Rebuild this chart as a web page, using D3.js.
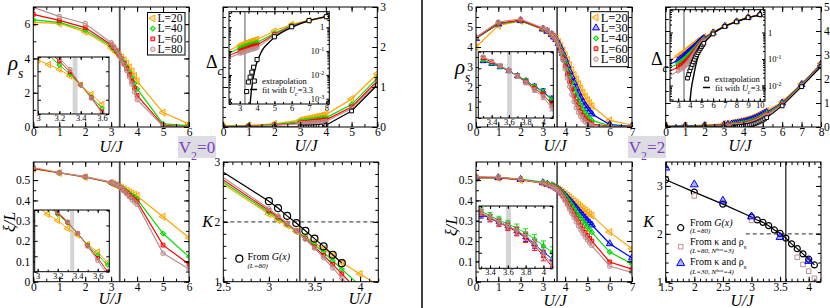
<!DOCTYPE html>
<html>
<head>
<meta charset="utf-8">
<script src="https://cdn.jsdelivr.net/npm/d3@7"></script>
<style>
  body { margin: 0; background: #fff; }
  svg { display: block; }
  svg text { font-family: "Liberation Serif", "DejaVu Serif", "Times New Roman", serif; }
</style>
</head>
<body>
<svg id="fig" width="830" height="308"></svg>
<script>
const SERIF = 'Liberation Serif, DejaVu Serif, serif';

// ---------- V2 = 0 ----------
const sizesV0 = ['L=20', 'L=40', 'L=60', 'L=80'];
const ucV0 = 3.33;
const uV0 = [0, 1, 2, 3, 3.1, 3.2, 3.3, 3.4, 3.5, 3.6, 3.7, 3.8, 3.9, 4, 5, 6];
const rhoV0 = [
  [6.1, 6.04, 5.55, 4.63, 4.5, 4.37, 4.22, 4.06, 3.9, 3.7, 3.48, 3.25, 2.98, 2.67, 0.84, 0.18],
  [6.25, 6.1, 5.66, 4.72, 4.57, 4.41, 4.21, 4.0, 3.77, 3.5, 3.2, 2.88, 2.55, 2.22, 0.18, 0.08],
  [6.57, 6.22, 5.8, 4.8, 4.63, 4.44, 4.2, 3.96, 3.7, 3.4, 3.05, 2.68, 2.28, 1.84, 0.1, 0.02],
  [6.98, 6.45, 6.04, 4.92, 4.72, 4.5, 4.22, 3.95, 3.65, 3.3, 2.92, 2.5, 2.05, 1.59, 0.05, 0.01]
];
const xiV0 = [
  [0.555, 0.535, 0.515, 0.486, 0.48, 0.475, 0.468, 0.462, 0.455, 0.448, 0.441, 0.435, 0.428, 0.422, 0.32, 0.216],
  [0.557, 0.536, 0.516, 0.487, 0.482, 0.476, 0.469, 0.461, 0.452, 0.443, 0.434, 0.425, 0.416, 0.406, 0.237, 0.123],
  [0.558, 0.536, 0.516, 0.488, 0.483, 0.477, 0.47, 0.46, 0.449, 0.437, 0.425, 0.414, 0.403, 0.394, 0.18, 0.086],
  [0.562, 0.537, 0.517, 0.49, 0.484, 0.478, 0.47, 0.459, 0.446, 0.432, 0.418, 0.404, 0.392, 0.38, 0.14, 0.063]
];
const uGapV0 = [0, 1, 2, 3, 3.1, 3.2, 3.3, 3.4, 3.5, 3.6, 3.7, 3.8, 3.9, 4, 5, 6, 7, 8];
const gapV0 = [
  [0.02, 0.04, 0.08, 0.17, 0.18, 0.195, 0.21, 0.22, 0.235, 0.25, 0.265, 0.28, 0.295, 0.31, 0.7, 1.33, 1.95, 2.8],
  [0.015, 0.03, 0.06, 0.133, 0.14, 0.15, 0.16, 0.17, 0.18, 0.19, 0.2, 0.21, 0.22, 0.23, 0.56, 1.22, 1.92, 2.78],
  [0.01, 0.025, 0.05, 0.1, 0.106, 0.113, 0.12, 0.128, 0.136, 0.145, 0.155, 0.165, 0.172, 0.18, 0.5, 1.15, 1.9, 2.77],
  [0.008, 0.02, 0.04, 0.08, 0.085, 0.09, 0.095, 0.1, 0.106, 0.112, 0.118, 0.124, 0.13, 0.137, 0.46, 1.09, 1.88, 2.76]
];
const uExtrapV0 = [0, 1, 2, 3, 3.1, 3.2, 3.3, 3.4, 3.5, 3.6, 3.7, 3.8, 4, 5, 6, 7, 8];
const extrapV0 = [0, 0, 0, 0, 0, 0, 0, 0.002, 0.005, 0.008, 0.013, 0.021, 0.044, 0.4, 1.05, 1.9, 2.78];
const uFitV0 = [3.6, 3.65, 3.7, 3.8, 3.9, 4.0, 4.15, 4.3, 4.6, 5, 5.5, 6, 7, 8];
const fitV0 = [0.0006, 0.0015, 0.003, 0.009, 0.02, 0.035, 0.065, 0.11, 0.2, 0.37, 0.65, 1.0, 1.9, 2.8];
const uKV0 = [2.5, 3.0, 3.1, 3.2, 3.3, 3.4, 3.5, 3.6, 3.7, 3.8, 4.0, 4.2];
const kV0 = [
  [2.63, 2.13, 2.03, 1.94, 1.84, 1.75, 1.65, 1.55, 1.44, 1.32, 1.13, 0.94],
  [2.66, 2.16, 2.06, 1.96, 1.85, 1.74, 1.62, 1.49, 1.35, 1.21, 0.93, 0.65],
  [2.70, 2.19, 2.08, 1.97, 1.85, 1.72, 1.58, 1.44, 1.29, 1.13, 0.82, 0.5],
  [2.74, 2.22, 2.10, 1.98, 1.85, 1.71, 1.56, 1.40, 1.23, 1.06, 0.72, 0.38]
];
const uGxV0 = [2.5, 3.0, 3.1, 3.2, 3.3, 3.4, 3.5, 3.6, 3.7, 3.8];
const gxV0 = [2.83, 2.345, 2.23, 2.10, 1.98, 1.85, 1.72, 1.59, 1.45, 1.31];
// insets (scaled, arbitrary units)
const uInsRhoV0 = [3.0, 3.1, 3.2, 3.3, 3.4, 3.5, 3.6];
const insRhoV0 = [
  [0.947, 0.866, 0.784, 0.667, 0.509, 0.345, 0.17],
  [1.2, 1.03, 0.86, 0.70, 0.509, 0.30, 0.10],
  [1.3, 1.1, 0.93, 0.74, 0.509, 0.286, 0.04],
  [1.4, 1.2, 0.977, 0.784, 0.509, 0.275, 0.012]
];
const uInsXiV0 = [3.0, 3.1, 3.2, 3.3, 3.4, 3.5, 3.6, 3.7];
const insXiV0 = [
  [1.05, 0.93, 0.83, 0.70, 0.595, 0.44, 0.32, 0.146],
  [1.2, 1.08, 0.93, 0.79, 0.62, 0.43, 0.27, 0.11],
  [1.25, 1.1, 0.95, 0.80, 0.62, 0.42, 0.22, 0.0],
  [1.3, 1.15, 0.97, 0.81, 0.62, 0.41, 0.18, -0.05]
];

// ---------- V2 = 2 ----------
const sizesV2 = ['L=20', 'L=30', 'L=40', 'L=60', 'L=80'];
const ucV2 = 3.64;
const uV2 = [0, 1, 2, 3, 3.2, 3.4, 3.5, 3.6, 3.7, 3.8, 3.9, 4.0, 4.1, 4.2, 4.3, 4.4, 4.5, 4.6, 4.7, 4.8, 4.9, 5.0, 5.1, 5.2, 6, 7];
const rhoV2 = [
  [4.0, 5.07, 5.3, 4.88, 4.78, 4.62, 4.52, 4.42, 4.25, 4.05, 3.83, 3.6, 3.35, 3.1, 2.85, 2.6, 2.38, 2.15, 1.93, 1.72, 1.52, 1.35, 1.2, 1.05, 0.33, 0.1],
  [4.42, 5.15, 5.32, 4.9, 4.79, 4.62, 4.5, 4.38, 4.18, 3.95, 3.68, 3.38, 3.08, 2.78, 2.5, 2.22, 1.95, 1.7, 1.47, 1.25, 1.07, 0.92, 0.78, 0.65, 0.12, 0.03],
  [4.42, 5.17, 5.32, 4.9, 4.8, 4.62, 4.5, 4.37, 4.15, 3.88, 3.57, 3.22, 2.88, 2.55, 2.22, 1.9, 1.62, 1.35, 1.1, 0.88, 0.7, 0.55, 0.43, 0.33, 0.06, 0.02],
  [4.45, 5.2, 5.34, 4.92, 4.81, 4.63, 4.5, 4.36, 4.12, 3.82, 3.45, 3.05, 2.65, 2.27, 1.9, 1.55, 1.25, 0.98, 0.75, 0.56, 0.41, 0.3, 0.21, 0.15, 0.03, 0.01],
  [4.5, 5.25, 5.4, 4.95, 4.83, 4.65, 4.52, 4.36, 4.1, 3.76, 3.35, 2.9, 2.45, 2.02, 1.62, 1.27, 0.97, 0.72, 0.52, 0.37, 0.26, 0.18, 0.12, 0.08, 0.02, 0.01]
];
const xiV2 = [
  [0.51, 0.51, 0.5, 0.485, 0.478, 0.47, 0.465, 0.46, 0.454, 0.447, 0.44, 0.432, 0.424, 0.415, 0.406, 0.397, 0.388, 0.379, 0.37, 0.36, 0.351, 0.342, 0.333, 0.325, 0.244, 0.162],
  [0.512, 0.512, 0.503, 0.487, 0.48, 0.472, 0.467, 0.461, 0.454, 0.445, 0.435, 0.424, 0.413, 0.401, 0.389, 0.376, 0.363, 0.35, 0.338, 0.325, 0.313, 0.301, 0.29, 0.279, 0.187, 0.117],
  [0.512, 0.513, 0.505, 0.49, 0.483, 0.476, 0.471, 0.465, 0.457, 0.447, 0.435, 0.421, 0.406, 0.391, 0.376, 0.36, 0.344, 0.328, 0.313, 0.298, 0.284, 0.27, 0.256, 0.243, 0.146, 0.087],
  [0.515, 0.512, 0.502, 0.485, 0.478, 0.47, 0.465, 0.458, 0.449, 0.437, 0.422, 0.405, 0.387, 0.368, 0.349, 0.33, 0.311, 0.293, 0.275, 0.258, 0.242, 0.227, 0.213, 0.2, 0.097, 0.062],
  [0.517, 0.514, 0.503, 0.485, 0.477, 0.468, 0.462, 0.455, 0.445, 0.432, 0.416, 0.398, 0.378, 0.357, 0.336, 0.315, 0.294, 0.274, 0.255, 0.237, 0.22, 0.205, 0.191, 0.178, 0.076, 0.046]
];
const uGapV2 = [0, 1, 2, 3, 3.2, 3.4, 3.5, 3.6, 3.7, 3.8, 3.9, 4.0, 4.1, 4.2, 4.3, 4.4, 4.5, 4.6, 4.7, 4.8, 4.9, 5.0, 5.1, 5.2, 6, 7, 8, 9, 10];
const gapV2 = [
  [0.04, 0.06, 0.08, 0.13, 0.15, 0.17, 0.18, 0.2, 0.21, 0.23, 0.25, 0.27, 0.29, 0.31, 0.34, 0.37, 0.4, 0.43, 0.47, 0.51, 0.55, 0.6, 0.64, 0.68, 1.05, 1.8, 2.65, 3.75, 4.7],
  [0.03, 0.045, 0.055, 0.09, 0.105, 0.12, 0.13, 0.14, 0.155, 0.17, 0.185, 0.2, 0.22, 0.24, 0.265, 0.29, 0.32, 0.35, 0.39, 0.43, 0.47, 0.52, 0.56, 0.61, 1.0, 1.77, 2.62, 3.72, 4.7],
  [0.02, 0.03, 0.04, 0.067, 0.078, 0.09, 0.097, 0.105, 0.115, 0.127, 0.14, 0.155, 0.17, 0.19, 0.21, 0.235, 0.26, 0.29, 0.33, 0.37, 0.41, 0.46, 0.51, 0.56, 0.97, 1.75, 2.6, 3.7, 4.7],
  [0.015, 0.02, 0.03, 0.05, 0.057, 0.065, 0.07, 0.076, 0.083, 0.092, 0.102, 0.114, 0.128, 0.145, 0.165, 0.19, 0.215, 0.245, 0.28, 0.32, 0.36, 0.41, 0.46, 0.52, 0.94, 1.73, 2.58, 3.68, 4.7],
  [0.01, 0.015, 0.02, 0.035, 0.04, 0.046, 0.05, 0.055, 0.061, 0.068, 0.077, 0.088, 0.1, 0.115, 0.133, 0.155, 0.18, 0.21, 0.245, 0.285, 0.33, 0.38, 0.43, 0.49, 0.92, 1.72, 2.57, 3.67, 4.7]
];
const uExtrapV2 = [0, 1, 2, 3, 3.5, 3.6, 3.7, 3.8, 3.9, 4.0, 4.1, 4.2, 4.3, 4.4, 4.5, 4.6, 4.7, 4.8, 4.9, 5.0, 5.1, 5.2, 6, 7, 8, 9, 10];
const extrapV2 = [0, 0, 0, 0, 0, 0, 0, 0.019, 0.026, 0.036, 0.048, 0.062, 0.078, 0.097, 0.12, 0.145, 0.175, 0.21, 0.25, 0.29, 0.34, 0.39, 0.88, 1.68, 2.52, 3.65, 4.7];
const uFitV2 = [4.02, 4.1, 4.2, 4.3, 4.5, 4.75, 5, 5.5, 6, 7, 8, 9, 10];
const fitV2 = [0.0025, 0.006, 0.012, 0.02, 0.055, 0.14, 0.27, 0.55, 0.9, 1.7, 2.55, 3.6, 4.65];
const uGxV2 = [1.5, 2, 2.5, 3, 3.1, 3.2, 3.3, 3.4, 3.5, 3.6, 3.7, 3.8, 3.9, 4.0, 4.1];
const gxV2 = [3.13, 2.87, 2.62, 2.35, 2.29, 2.24, 2.17, 2.08, 2.01, 1.91, 1.79, 1.69, 1.58, 1.47, 1.35];
const uKappaL80 = [2, 3, 3.8, 3.9, 4.0, 4.1];
const kappaL80 = [2.79, 2.28, 1.51, 1.36, 1.22, 1.07];
const uKappaL30 = [1.5, 2, 2.5, 3, 3.5, 4];
const kappaL30 = [3.38, 3.03, 2.69, 2.36, 1.93, 1.43];
// insets (scaled, arbitrary units), sizes L=30..80
const sizesInsV2 = ['L=30', 'L=40', 'L=60', 'L=80'];
const uInsV2 = [3.3, 3.4, 3.5, 3.6, 3.7, 3.8, 3.9, 4.0, 4.1];
const insRhoV2 = [
  [0.86, 0.82, 0.77, 0.71, 0.635, 0.56, 0.475, 0.4, 0.285],
  [0.875, 0.83, 0.777, 0.71, 0.635, 0.56, 0.47, 0.39, 0.27],
  [0.905, 0.845, 0.785, 0.713, 0.63, 0.543, 0.445, 0.354, 0.21],
  [0.925, 0.86, 0.79, 0.716, 0.626, 0.53, 0.42, 0.317, 0.15]
];
const errInsRhoV2 = [0.02, 0.02, 0.025, 0.025, 0.03, 0.03, 0.035, 0.04, 0.045];
const insXiV2 = [
  [0.855, 0.81, 0.745, 0.68, 0.6, 0.5, 0.39, 0.26, 0.15],
  [0.92, 0.84, 0.775, 0.71, 0.645, 0.565, 0.47, 0.36, 0.26],
  [0.89, 0.8, 0.73, 0.665, 0.585, 0.485, 0.36, 0.2, 0.02],
  [0.9, 0.815, 0.745, 0.68, 0.605, 0.52, 0.405, 0.23, 0.07]
];
const errInsXiV2 = [0.05, 0.055, 0.06, 0.06, 0.065, 0.07, 0.075, 0.08, 0.085];

// ---------- styling ----------
const colorOf = { 'L=20': '#ffa500', 'L=30': '#0000ff', 'L=40': '#00dd00', 'L=60': '#ff0000', 'L=80': '#bc8f8f' };
const symOf = { 'L=20': 'left', 'L=30': 'up', 'L=40': 'diamond', 'L=60': 'square', 'L=80': 'circle' };
const symType = { left: d3.symbolTriangle, up: d3.symbolTriangle, diamond: d3.symbolSquare, square: d3.symbolSquare, circle: d3.symbolCircle };
const symRot = { left: -90, up: 0, diamond: 45, square: 0, circle: 0 };
const symSize = { left: 21, up: 21, diamond: 12, square: 14, circle: 16 };

const svg = d3.select('#fig');
const fmt = d3.format('~g');
const tk = (a, b, s) => d3.range(Math.round((b - a) / s) + 1).map(i => +(a + i * s).toFixed(4));
const logMinor = (lo, hi) => {
  const out = [];
  for (let e = -4; e <= 1; e++) for (let m = 2; m <= 9; m++) {
    const v = m * Math.pow(10, e);
    if (v >= lo && v <= hi) out.push(v);
  }
  return out;
};

let clipCount = 0;
function makePanel(box, xd, yd, ylog) {
  const [l, t, w, h] = box;
  const g = svg.append('g').attr('transform', 'translate(' + l + ',' + t + ')');
  const x = d3.scaleLinear().domain(xd).range([0, w]);
  const y = (ylog ? d3.scaleLog() : d3.scaleLinear()).domain(yd).range([h, 0]);
  g.append('rect').attr('width', w).attr('height', h).attr('fill', '#fff');
  const id = 'clip' + (++clipCount);
  g.append('clipPath').attr('id', id).append('rect').attr('width', w).attr('height', h);
  const plot = g.append('g').attr('clip-path', 'url(#' + id + ')');
  return { g, plot, x, y, w, h, ylog };
}

function supLabels(a) {
  a.selectAll('.tick text').each(function (d) {
    const e = Math.round(Math.log10(d));
    const t = d3.select(this).text(null);
    if (e === 0) { t.text('1'); return; }
    t.append('tspan').text('10');
    t.append('tspan').attr('baseline-shift', 'super').attr('font-size', '70%').text(e);
  });
}

function finishPanel(p, o) {
  const { g, x, y, w, h } = p;
  const fs = o.fs || 11.5, big = o.tick || 5, small = o.minorTick || 3;
  const put = (fn, scale, vals, size, tr, labeled, pad) => {
    const a = g.append('g').attr('transform', tr)
      .call(fn(scale).tickValues(vals).tickSize(size).tickPadding(pad)
        .tickFormat(labeled ? fmt : () => ''));
    a.select('.domain').remove();
    a.attr('font-family', SERIF).attr('font-size', fs);
    a.selectAll('line').attr('stroke', '#000');
    return a;
  };
  const bottom = 'translate(0,' + h + ')', right = 'translate(' + w + ',0)';
  put(d3.axisBottom, x, o.xMajor, -big, bottom, true, o.xPad === undefined ? 1 : o.xPad);
  put(d3.axisTop, x, o.xMajor, -big, null, false, 0);
  if (o.xMinor) {
    put(d3.axisBottom, x, o.xMinor, -small, bottom, false, 0);
    put(d3.axisTop, x, o.xMinor, -small, null, false, 0);
  }
  const side = o.yLabels || 'left';
  const yPad = o.yPad === undefined ? 3 : o.yPad;
  const la = put(d3.axisLeft, y, o.yMajor, -big, null, side === 'left', yPad);
  let ra;
  if (side === 'insideRight') ra = put(d3.axisLeft, y, o.yMajor, big, right, true, 2);
  else ra = put(d3.axisRight, y, o.yMajor, -big, right, side === 'right', yPad);
  if (o.yMinor) {
    put(d3.axisLeft, y, o.yMinor, -small, null, false, 0);
    put(d3.axisRight, y, o.yMinor, -small, right, false, 0);
  }
  if (p.ylog) supLabels(side === 'left' ? la : ra);
  g.append('rect').attr('width', w).attr('height', h)
    .attr('fill', 'none').attr('stroke', '#000').attr('stroke-width', 1);
}

function drawSeries(p, us, vs, o) {
  const pts = us.map((u, i) => [u, vs[i], i]).filter(d => d[1] != null && !(p.ylog && d[1] <= 0));
  if (o.line !== false) {
    p.plot.append('path').datum(pts)
      .attr('d', d3.line().curve(o.curve || d3.curveLinear).x(d => p.x(d[0])).y(d => p.y(d[1])))
      .attr('fill', 'none').attr('stroke', o.color).attr('stroke-width', o.lw || 1.2);
  }
  if (o.err) {
    const eg = p.plot.append('g').attr('stroke', o.color).attr('stroke-width', 0.9);
    pts.forEach(d => {
      const xx = p.x(d[0]), y0 = p.y(d[1] - o.err[d[2]]), y1 = p.y(d[1] + o.err[d[2]]);
      eg.append('line').attr('x1', xx).attr('x2', xx).attr('y1', y0).attr('y2', y1);
      eg.append('line').attr('x1', xx - 2.5).attr('x2', xx + 2.5).attr('y1', y0).attr('y2', y0);
      eg.append('line').attr('x1', xx - 2.5).attr('x2', xx + 2.5).attr('y1', y1).attr('y2', y1);
    });
  }
  if (o.sym) {
    const keep = o.markIf || (() => true);
    const scale = o.symScale || 1;
    p.plot.append('g').selectAll('path').data(pts.filter(keep)).join('path')
      .attr('transform', d => 'translate(' + p.x(d[0]) + ',' + p.y(d[1]) + ') rotate(' + symRot[o.sym] + ')')
      .attr('d', d3.symbol(symType[o.sym], symSize[o.sym] * scale)())
      .attr('fill', o.fill || o.color).attr('fill-opacity', o.fillOpacity === undefined ? 0.3 : o.fillOpacity)
      .attr('stroke', o.color).attr('stroke-width', o.sw || 1);
  }
}

function vline(p, u, color, w) {
  p.plot.append('line').attr('x1', p.x(u)).attr('x2', p.x(u)).attr('y1', 0).attr('y2', p.h)
    .attr('stroke', color).attr('stroke-width', w);
}
function hdash(p, v, u0, u1) {
  p.plot.append('line').attr('x1', p.x(u0)).attr('x2', p.x(u1)).attr('y1', p.y(v)).attr('y2', p.y(v))
    .attr('stroke', '#555').attr('stroke-width', 1.2).attr('stroke-dasharray', '4,3');
}
function band(p, u0, u1) {
  p.plot.append('rect').attr('x', p.x(u0)).attr('width', p.x(u1) - p.x(u0))
    .attr('y', 0).attr('height', p.h).attr('fill', '#d4d4d4');
}

function label(x, y, parts, o) {
  o = o || {};
  const t = svg.append('text').attr('x', x).attr('y', y).attr('font-family', SERIF)
    .attr('font-size', o.fs || 12).attr('text-anchor', o.anchor || 'start').attr('fill', o.color || '#000');
  if (o.rotate) t.attr('transform', 'rotate(' + o.rotate + ',' + x + ',' + y + ')');
  if (o.italic) t.attr('font-style', 'italic');
  parts.forEach(pt => {
    if (typeof pt === 'string') pt = { t: pt };
    const s = t.append('tspan').text(pt.t);
    if (pt.i) s.attr('font-style', 'italic');
    if (pt.n) s.attr('font-style', 'normal');
    if (pt.sub) s.attr('baseline-shift', 'sub').attr('font-size', pt.fs || '70%');
    if (pt.sup) s.attr('baseline-shift', 'super').attr('font-size', pt.fs || '70%');
  });
  return t;
}

function legendMark(x, y, sym, color, o) {
  o = o || {};
  svg.append('path').attr('transform', 'translate(' + x + ',' + y + ') rotate(' + symRot[sym] + ')')
    .attr('d', d3.symbol(symType[sym], symSize[sym] * (o.scale || 1))())
    .attr('fill', o.fill || color).attr('fill-opacity', o.fillOpacity === undefined ? 0.3 : o.fillOpacity)
    .attr('stroke', color).attr('stroke-width', o.sw || 1);
}

function sizeLegend(box, sizes, fs, step) {
  const [l, t, w, h] = box;
  svg.append('rect').attr('x', l).attr('y', t).attr('width', w).attr('height', h)
    .attr('fill', '#fff').attr('stroke', '#000').attr('stroke-width', 1);
  sizes.forEach((s, k) => {
    const yy = t + 5.8 + k * step;
    legendMark(l + 5.3, yy, symOf[s], colorOf[s]);
    label(l + 10, yy + fs * 0.33, [s], { fs: fs });
  });
}

// ================= V2 = 0 =================
// rho_s
const p1 = makePanel([33.3, 7, 155.7, 120], [0, 6], [0, 7]);
vline(p1, ucV0, '#505050', 1.8);
sizesV0.forEach((s, k) => drawSeries(p1, uV0, rhoV0[k], { color: colorOf[s], sym: symOf[s] }));
finishPanel(p1, { xMajor: tk(0, 6, 1), xMinor: tk(0, 6, 0.5), yMajor: tk(0, 6, 2), yMinor: tk(0, 7, 1) });
const i1 = makePanel([38, 57, 71, 57], [3.0, 3.665], [0, 1]);
band(i1, 3.325, 3.37);
sizesV0.forEach((s, k) => drawSeries(i1, uInsRhoV0, insRhoV0[k], { color: colorOf[s], sym: symOf[s], symScale: 0.8, lw: 1 }));
finishPanel(i1, { fs: 8.5, tick: 3, minorTick: 2, xMajor: [3, 3.2, 3.4, 3.6], xMinor: tk(3, 3.6, 0.1), yMajor: tk(0, 1, 0.25), yLabels: 'none', xPad: 1 });
sizeLegend([147.5, 12.5, 37.5, 42.5], sizesV0, 11.5, 10.3);

// Delta_c
const p2 = makePanel([223, 7, 154.3, 120], [0, 6], [0, 3]);
sizesV0.forEach((s, k) => drawSeries(p2, uGapV0, gapV0[k], { color: colorOf[s], sym: symOf[s] }));
drawSeries(p2, uExtrapV0, extrapV0, { color: '#000', sym: 'square', fill: '#fff', fillOpacity: 1 });
finishPanel(p2, { xMajor: tk(0, 6, 1), xMinor: tk(0, 6, 0.5), yMajor: tk(0, 3, 1), yMinor: tk(0, 3, 0.25), yLabels: 'right' });
const i2 = makePanel([229, 11.7, 100.3, 92.3], [2.38, 8.17], [6e-4, 4.5], true);
vline(i2, 3.3, '#707070', 1.2);
sizesV0.forEach((s, k) => drawSeries(i2, uGapV0, gapV0[k], { color: colorOf[s], sym: symOf[s], symScale: 0.8, lw: 1.1 }));
drawSeries(i2, uFitV0, fitV0, { color: '#000', curve: d3.curveMonotoneX, lw: 1.4 });
drawSeries(i2, uExtrapV0, extrapV0, { color: '#000', sym: 'square', fill: '#fff', fillOpacity: 1, line: false, symScale: 1.2 });
finishPanel(i2, { fs: 8.5, tick: 3, minorTick: 2, xMajor: tk(3, 8, 1), xMinor: tk(2.5, 8, 0.5), yMajor: [1e-3, 1e-2, 1e-1, 1], yMinor: logMinor(6e-4, 4.5), yLabels: 'insideRight', xPad: 1 });
legendMark(254.3, 81, 'square', '#000', { fill: '#fff', fillOpacity: 1, scale: 1.2 });
label(262, 84, ['extrapolation'], { fs: 8.5 });
svg.append('line').attr('x1', 250).attr('x2', 257).attr('y1', 89.5).attr('y2', 89.5).attr('stroke', '#000').attr('stroke-width', 1.5);
label(262, 92.5, ['fit with ', { t: 'U', i: true }, { t: 'c', i: true, sub: true }, '=3.3'], { fs: 8.5 });

// xi/L
const p3 = makePanel([33.3, 162, 155.7, 119.7], [0, 6], [0, 0.589]);
vline(p3, ucV0, '#505050', 1.8);
sizesV0.forEach((s, k) => drawSeries(p3, uV0, xiV0[k], { color: colorOf[s], sym: symOf[s] }));
finishPanel(p3, { xMajor: tk(0, 6, 1), xMinor: tk(0, 6, 0.5), yMajor: tk(0, 0.5, 0.1), yMinor: tk(0, 0.55, 0.05) });
const i3 = makePanel([34.7, 210, 74.6, 61.7], [2.97, 3.716], [0, 1]);
band(i3, 3.325, 3.365);
sizesV0.forEach((s, k) => drawSeries(i3, uInsXiV0, insXiV0[k], { color: colorOf[s], sym: symOf[s], symScale: 0.8, lw: 1 }));
finishPanel(i3, { fs: 8.5, tick: 3, minorTick: 2, xMajor: [3, 3.2, 3.4, 3.6], xMinor: tk(3, 3.7, 0.1), yMajor: tk(0, 1, 0.25), yLabels: 'none', xPad: 1 });

// K
const p4 = makePanel([223.3, 162, 155, 119.7], [2.5, 4.2], [1, 3]);
hdash(p4, 2, 2.5, 4.2);
vline(p4, 3.34, '#000', 1.1);
sizesV0.forEach((s, k) => drawSeries(p4, uKV0, kV0[k], { color: colorOf[s], sym: symOf[s], markIf: d => d[0] >= 2.95 && d[0] <= 4.05 }));
drawSeries(p4, uGxV0, gxV0, { color: '#000', sym: 'circle', fill: 'none', fillOpacity: 0, symScale: 2.4, sw: 1.2, markIf: d => d[0] >= 2.95 });
finishPanel(p4, { xMajor: [2.5, 3, 3.5, 4], xMinor: tk(2.5, 4.2, 0.1), yMajor: [1, 2, 3], yMinor: tk(1, 3, 0.2) });
legendMark(239.3, 258.7, 'circle', '#000', { fill: 'none', fillOpacity: 0, scale: 2.4, sw: 1.2 });
label(247.5, 260, ['From ', { t: 'G(x)', i: true }], { fs: 10 });
label(247.5, 267.5, ['(L=80)'], { fs: 7, italic: true });

// ================= V2 = 2 =================
const p5 = makePanel([476, 7, 156, 120], [0, 7], [0, 6]);
vline(p5, ucV2, '#505050', 1.8);
sizesV2.forEach((s, k) => drawSeries(p5, uV2, rhoV2[k], { color: colorOf[s], sym: symOf[s] }));
finishPanel(p5, { xMajor: tk(0, 7, 1), xMinor: tk(0, 7, 0.5), yMajor: tk(0, 6, 1), yMinor: tk(0, 6, 0.5) });
const i5 = makePanel([478.3, 51.7, 75, 66.3], [3.244, 4.118], [0, 1]);
band(i5, 3.58, 3.635);
sizesInsV2.forEach((s, k) => drawSeries(i5, uInsV2, insRhoV2[k], { color: colorOf[s], sym: symOf[s], symScale: 0.7, lw: 1, err: errInsRhoV2 }));
finishPanel(i5, { fs: 8.5, tick: 3, minorTick: 2, xMajor: [3.4, 3.6, 3.8, 4], xMinor: tk(3.3, 4.1, 0.1), yMajor: tk(0, 1, 0.25), yLabels: 'none', xPad: 1 });
sizeLegend([590.7, 11.7, 37.6, 55], sizesV2, 12.5, 10.4);

const p6 = makePanel([665.7, 7, 155.3, 120], [0, 8], [0, 5]);
sizesV2.forEach((s, k) => drawSeries(p6, uGapV2, gapV2[k], { color: colorOf[s], sym: symOf[s] }));
drawSeries(p6, uExtrapV2, extrapV2, { color: '#000', sym: 'square', fill: '#fff', fillOpacity: 1 });
finishPanel(p6, { xMajor: tk(0, 8, 1), xMinor: tk(0, 8, 0.5), yMajor: tk(0, 5, 1), yMinor: tk(0, 5, 0.5), yLabels: 'right' });
const i6 = makePanel([670, 9.7, 95, 91.6], [2.3, 10.45], [0.00253, 7.25], true);
vline(i6, 3.5, '#707070', 1.2);
sizesV2.forEach((s, k) => drawSeries(i6, uGapV2, gapV2[k], { color: colorOf[s], sym: symOf[s], symScale: 0.8, lw: 1.1 }));
drawSeries(i6, uFitV2, fitV2, { color: '#000', curve: d3.curveMonotoneX, lw: 1.4 });
drawSeries(i6, uExtrapV2, extrapV2, { color: '#000', sym: 'square', fill: '#fff', fillOpacity: 1, line: false, symScale: 1.0 });
finishPanel(i6, { fs: 8.5, tick: 3, minorTick: 2, xMajor: tk(3, 10, 1), xMinor: tk(2.5, 10, 0.5), yMajor: [1e-2, 1e-1, 1], yMinor: logMinor(0.00253, 7.25), yLabels: 'right', xPad: 1 });
legendMark(706.7, 79, 'square', '#000', { fill: '#fff', fillOpacity: 1, scale: 1.1 });
label(715, 82, ['extrapolation'], { fs: 8.5 });
svg.append('line').attr('x1', 703).attr('x2', 710).attr('y1', 87.5).attr('y2', 87.5).attr('stroke', '#000').attr('stroke-width', 1.5);
label(715, 90.5, ['fit with ', { t: 'U', i: true }, { t: 'c', i: true, sub: true }, '=3.6'], { fs: 8.5 });

const p7 = makePanel([476, 162, 156, 119.7], [0, 7], [0, 0.589]);
vline(p7, ucV2, '#505050', 1.8);
sizesV2.forEach((s, k) => drawSeries(p7, uV2, xiV2[k], { color: colorOf[s], sym: symOf[s] }));
finishPanel(p7, { xMajor: tk(0, 7, 1), xMinor: tk(0, 7, 0.5), yMajor: tk(0, 0.5, 0.1), yMinor: tk(0, 0.55, 0.05) });
const i7 = makePanel([479, 206, 73.7, 62.3], [3.276, 4.104], [0, 1]);
band(i7, 3.58, 3.635);
sizesInsV2.forEach((s, k) => drawSeries(i7, uInsV2, insXiV2[k], { color: colorOf[s], sym: symOf[s], symScale: 0.7, lw: 1, err: errInsXiV2 }));
finishPanel(i7, { fs: 8.5, tick: 3, minorTick: 2, xMajor: [3.4, 3.6, 3.8, 4], xMinor: tk(3.3, 4.1, 0.1), yMajor: tk(0, 1, 0.25), yLabels: 'none', xPad: 1 });

const p8 = makePanel([665.7, 162, 155.3, 119.7], [1.5, 4.215], [1, 3.5]);
hdash(p8, 2, 2.9, 4.215);
vline(p8, 3.6, '#000', 1.1);
drawSeries(p8, uGxV2, gxV2, { color: '#000', sym: 'circle', fill: 'none', fillOpacity: 0, symScale: 1.8, sw: 1.2 });
drawSeries(p8, uKappaL80, kappaL80, { color: '#bc8f8f', sym: 'square', fill: '#fff', fillOpacity: 1, line: false, symScale: 1.5 });
drawSeries(p8, uKappaL30, kappaL30, { color: '#0000ff', sym: 'up', line: false, symScale: 1.3 });
finishPanel(p8, { xMajor: tk(1.5, 4, 0.5), xMinor: tk(1.5, 4.2, 0.1), yMajor: [1, 2, 3], yMinor: tk(1, 3.4, 0.2) });
legendMark(680.7, 227.7, 'circle', '#000', { fill: 'none', fillOpacity: 0, scale: 1.8, sw: 1.2 });
label(690, 226, ['From ', { t: 'G(x)', i: true }], { fs: 10 });
label(690, 233, ['(L=80)'], { fs: 7, italic: true });
legendMark(680.7, 246.7, 'square', '#bc8f8f', { fill: '#fff', fillOpacity: 1, scale: 1.5 });
label(690, 244.5, ['From \u03ba and \u03c1', { t: 's', sub: true }], { fs: 10 });
label(690, 253, ['(L=80, N', { t: 'box', sup: true }, '=3)'], { fs: 7, italic: true });
legendMark(680.7, 263.3, 'up', '#0000ff', { scale: 1.3 });
label(690, 264.5, ['From \u03ba and \u03c1', { t: 's', sub: true }], { fs: 10 });
label(690, 273.5, ['(L=30, N', { t: 'box', sup: true }, '=4)'], { fs: 7, italic: true });

// ================= axis titles =================
const UJ = [[111, 152], [306, 151], [110, 304], [360, 303.5], [555, 151], [740, 151], [555, 306], [742, 306]];
UJ.forEach(([x, y]) => label(x, y, ['U/J'], { fs: 16, italic: true, anchor: 'middle' }));
[[8, 70], [455, 74]].forEach(([x, y]) => label(x, y, ['\u03c1', { t: 's', sub: true, fs: '65%' }], { fs: 21, italic: true }));
[[206, 68], [651, 65]].forEach(([x, y]) => label(x, y, ['\u0394', { t: 'c', i: true, sub: true, fs: '70%' }], { fs: 18 }));
[[14.5, 222], [457, 226]].forEach(([x, y]) => label(x, y, ['\u03be/L'], { fs: 16, italic: true, anchor: 'middle', rotate: -90 }));
[[207.5, 227], [648.5, 227]].forEach(([x, y]) => label(x, y, ['K'], { fs: 16, italic: true, anchor: 'middle' }));

// V2 tags
[[178, 136, '0'], [628, 136, '2']].forEach(([x, y, v]) => {
  svg.append('rect').attr('x', x).attr('y', y).attr('width', 38).attr('height', 22).attr('fill', '#dcdce2');
  label(x + 19, y + 17, ['V', { t: '2', sub: true }, '=' + v], { fs: 17, anchor: 'middle', color: '#7b3fc4' });
});

// divider
svg.append('line').attr('x1', 422).attr('x2', 422).attr('y1', 0).attr('y2', 308).attr('stroke', '#000').attr('stroke-width', 1.5);
</script>
</body>
</html>
